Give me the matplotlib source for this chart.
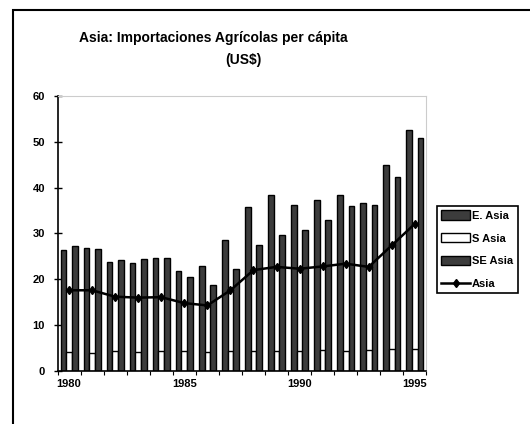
import numpy as np
import matplotlib
matplotlib.use("Agg")
import matplotlib.pyplot as plt
from matplotlib.patches import Rectangle

plt.rcParams['font.family'] = ['Liberation Sans', 'DejaVu Sans']

# Values (US$ per capita)
years = list(range(1980, 1996))
e_asia = [26.3, 26.8, 23.8, 23.6, 24.7, 21.8, 22.9, 28.5,
          35.7, 38.3, 36.3, 37.3, 38.4, 36.7, 45.0, 52.5]
s_asia = [4.2, 4.0, 4.3, 4.2, 4.4, 4.3, 4.2, 4.3,
          4.4, 4.4, 4.3, 4.5, 4.4, 4.6, 4.7, 4.8]
se_asia = [27.2, 26.5, 24.3, 24.4, 24.6, 20.5, 18.8, 22.3,
           27.4, 29.6, 30.7, 33.0, 35.9, 36.1, 42.2, 50.9]
asia = [17.6, 17.6, 16.2, 16.0, 16.1, 14.8, 14.3, 17.6,
        22.0, 22.7, 22.3, 22.8, 23.4, 22.7, 27.4, 32.1]
tick_years = [1980, 1985, 1990, 1995]

fig = plt.figure(figsize=(5.3, 4.24), dpi=100)
ax = fig.add_axes([0.1085, 0.125, 0.696, 0.649])

x = np.arange(len(years))
w = 0.245
dark = '#3c3c3c'

b1 = ax.bar(x - w, e_asia, w, color=dark, edgecolor='black', linewidth=1.0, label='E. Asia', zorder=2)
b2 = ax.bar(x, s_asia, w, color='white', edgecolor='black', linewidth=1.0, label='S Asia', zorder=2)
b3 = ax.bar(x + w, se_asia, w, color=dark, edgecolor='black', linewidth=1.0, label='SE Asia', zorder=2)
ln, = ax.plot(x, asia, color='black', linewidth=1.8, marker='d', markersize=4.5, label='Asia', zorder=3)

ax.set_xlim(-0.5, len(years) - 0.5)
ax.set_ylim(0, 60)
ax.set_yticks(range(0, 61, 10))
ax.tick_params(axis='y', direction='inout', length=6, width=1, labelsize=8, pad=6)
for lbl in ax.get_yticklabels():
    lbl.set_fontweight('bold')

ax.set_xticks([years.index(t) for t in tick_years])
ax.set_xticklabels([str(t) for t in tick_years], fontsize=8, fontweight='bold')
ax.tick_params(axis='x', which='major', length=0, pad=6)
ax.set_xticks(np.arange(-0.5, len(years), 1), minor=True)
ax.tick_params(axis='x', which='minor', direction='out', length=3, width=0.8)

ax.spines['left'].set_linewidth(1.2)
ax.spines['bottom'].set_linewidth(1.2)
ax.spines['top'].set_color('#cccccc')
ax.spines['right'].set_color('#cccccc')

fig.text(213 / 530, 1 - 38 / 424, 'Asia: Importaciones Agrícolas per cápita',
         ha='center', va='center', fontsize=10, fontweight='bold')
fig.text(243 / 530, 1 - 60 / 424, '(US$)',
         ha='center', va='center', fontsize=10, fontweight='bold')

leg = fig.legend([b1, b2, b3, ln], ['E. Asia', 'S Asia', 'SE Asia', 'Asia'],
                 loc='upper left', bbox_to_anchor=(437 / 530, 1 - 206 / 424),
                 fontsize=8, frameon=True, fancybox=False, edgecolor='black',
                 framealpha=1, handlelength=2.6, handleheight=0.9, handletextpad=0.15,
                 labelspacing=1.1, borderpad=0.4, borderaxespad=0)
leg.get_frame().set_linewidth(1.2)
for t in leg.get_texts():
    t.set_fontweight('bold')

# outer chart border (runs off the right and bottom edges)
fig.patches.append(Rectangle((13 / 530, -0.1), 1.2, 1 - 10 / 424 + 0.1,
                             transform=fig.transFigure, fill=False,
                             edgecolor='black', linewidth=1.5))

fig.savefig('out.png', dpi=100)
